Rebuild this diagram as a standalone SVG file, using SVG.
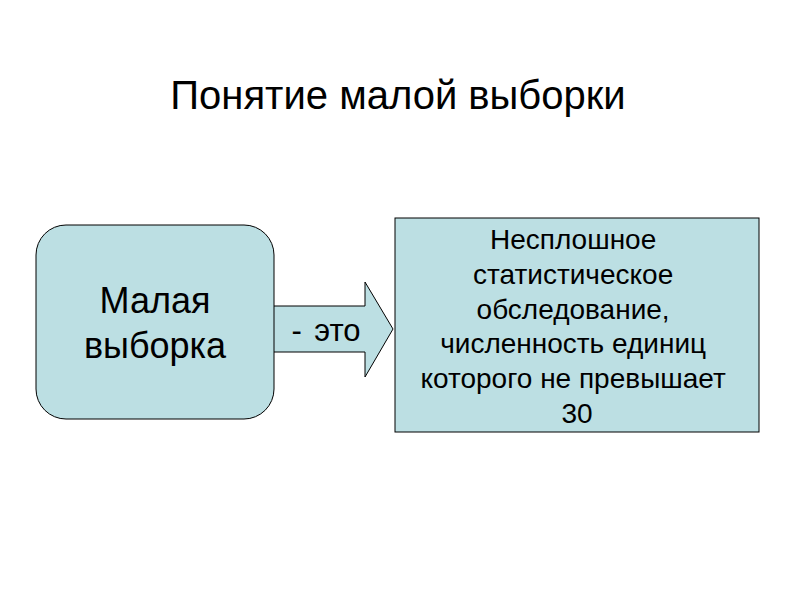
<svg xmlns="http://www.w3.org/2000/svg" width="800" height="600" viewBox="0 0 800 600">
<style>
.t{font-family:"Liberation Sans",Arial,sans-serif;fill:#000;text-anchor:middle}
.box{fill:#BCDFE3;stroke:#000;stroke-width:1}
</style>
<rect width="800" height="600" fill="#fff"/>
<text class="t" x="398" y="109" font-size="40">Понятие малой выборки</text>
<g id="connectors">
<path class="box" d="M273,306 H365 V282 L393,329 L365,377 V352 H273 Z"/>
<text class="t" x="326" y="341" font-size="31" word-spacing="4">- это</text>
</g>
<g id="small-sample">
<rect class="box" x="36" y="225" width="238" height="194" rx="30" ry="30"/>
<text class="t" x="155" y="313" font-size="36">Малая</text>
<text class="t" x="155" y="358" font-size="36">выборка</text>
</g>
<g id="definition">
<rect class="box" x="395" y="218" width="364" height="214"/>
<text class="t" font-size="28" x="577">
<tspan x="577" y="249">Несплошное</tspan>
<tspan x="577" y="283.8">статистическое</tspan>
<tspan x="577" y="318.6">обследование,</tspan>
<tspan x="577" y="353.4">численность единиц</tspan>
<tspan x="577" y="388.2">которого не превышает</tspan>
<tspan x="577" y="423">30</tspan>
</text>
</g>
</svg>
